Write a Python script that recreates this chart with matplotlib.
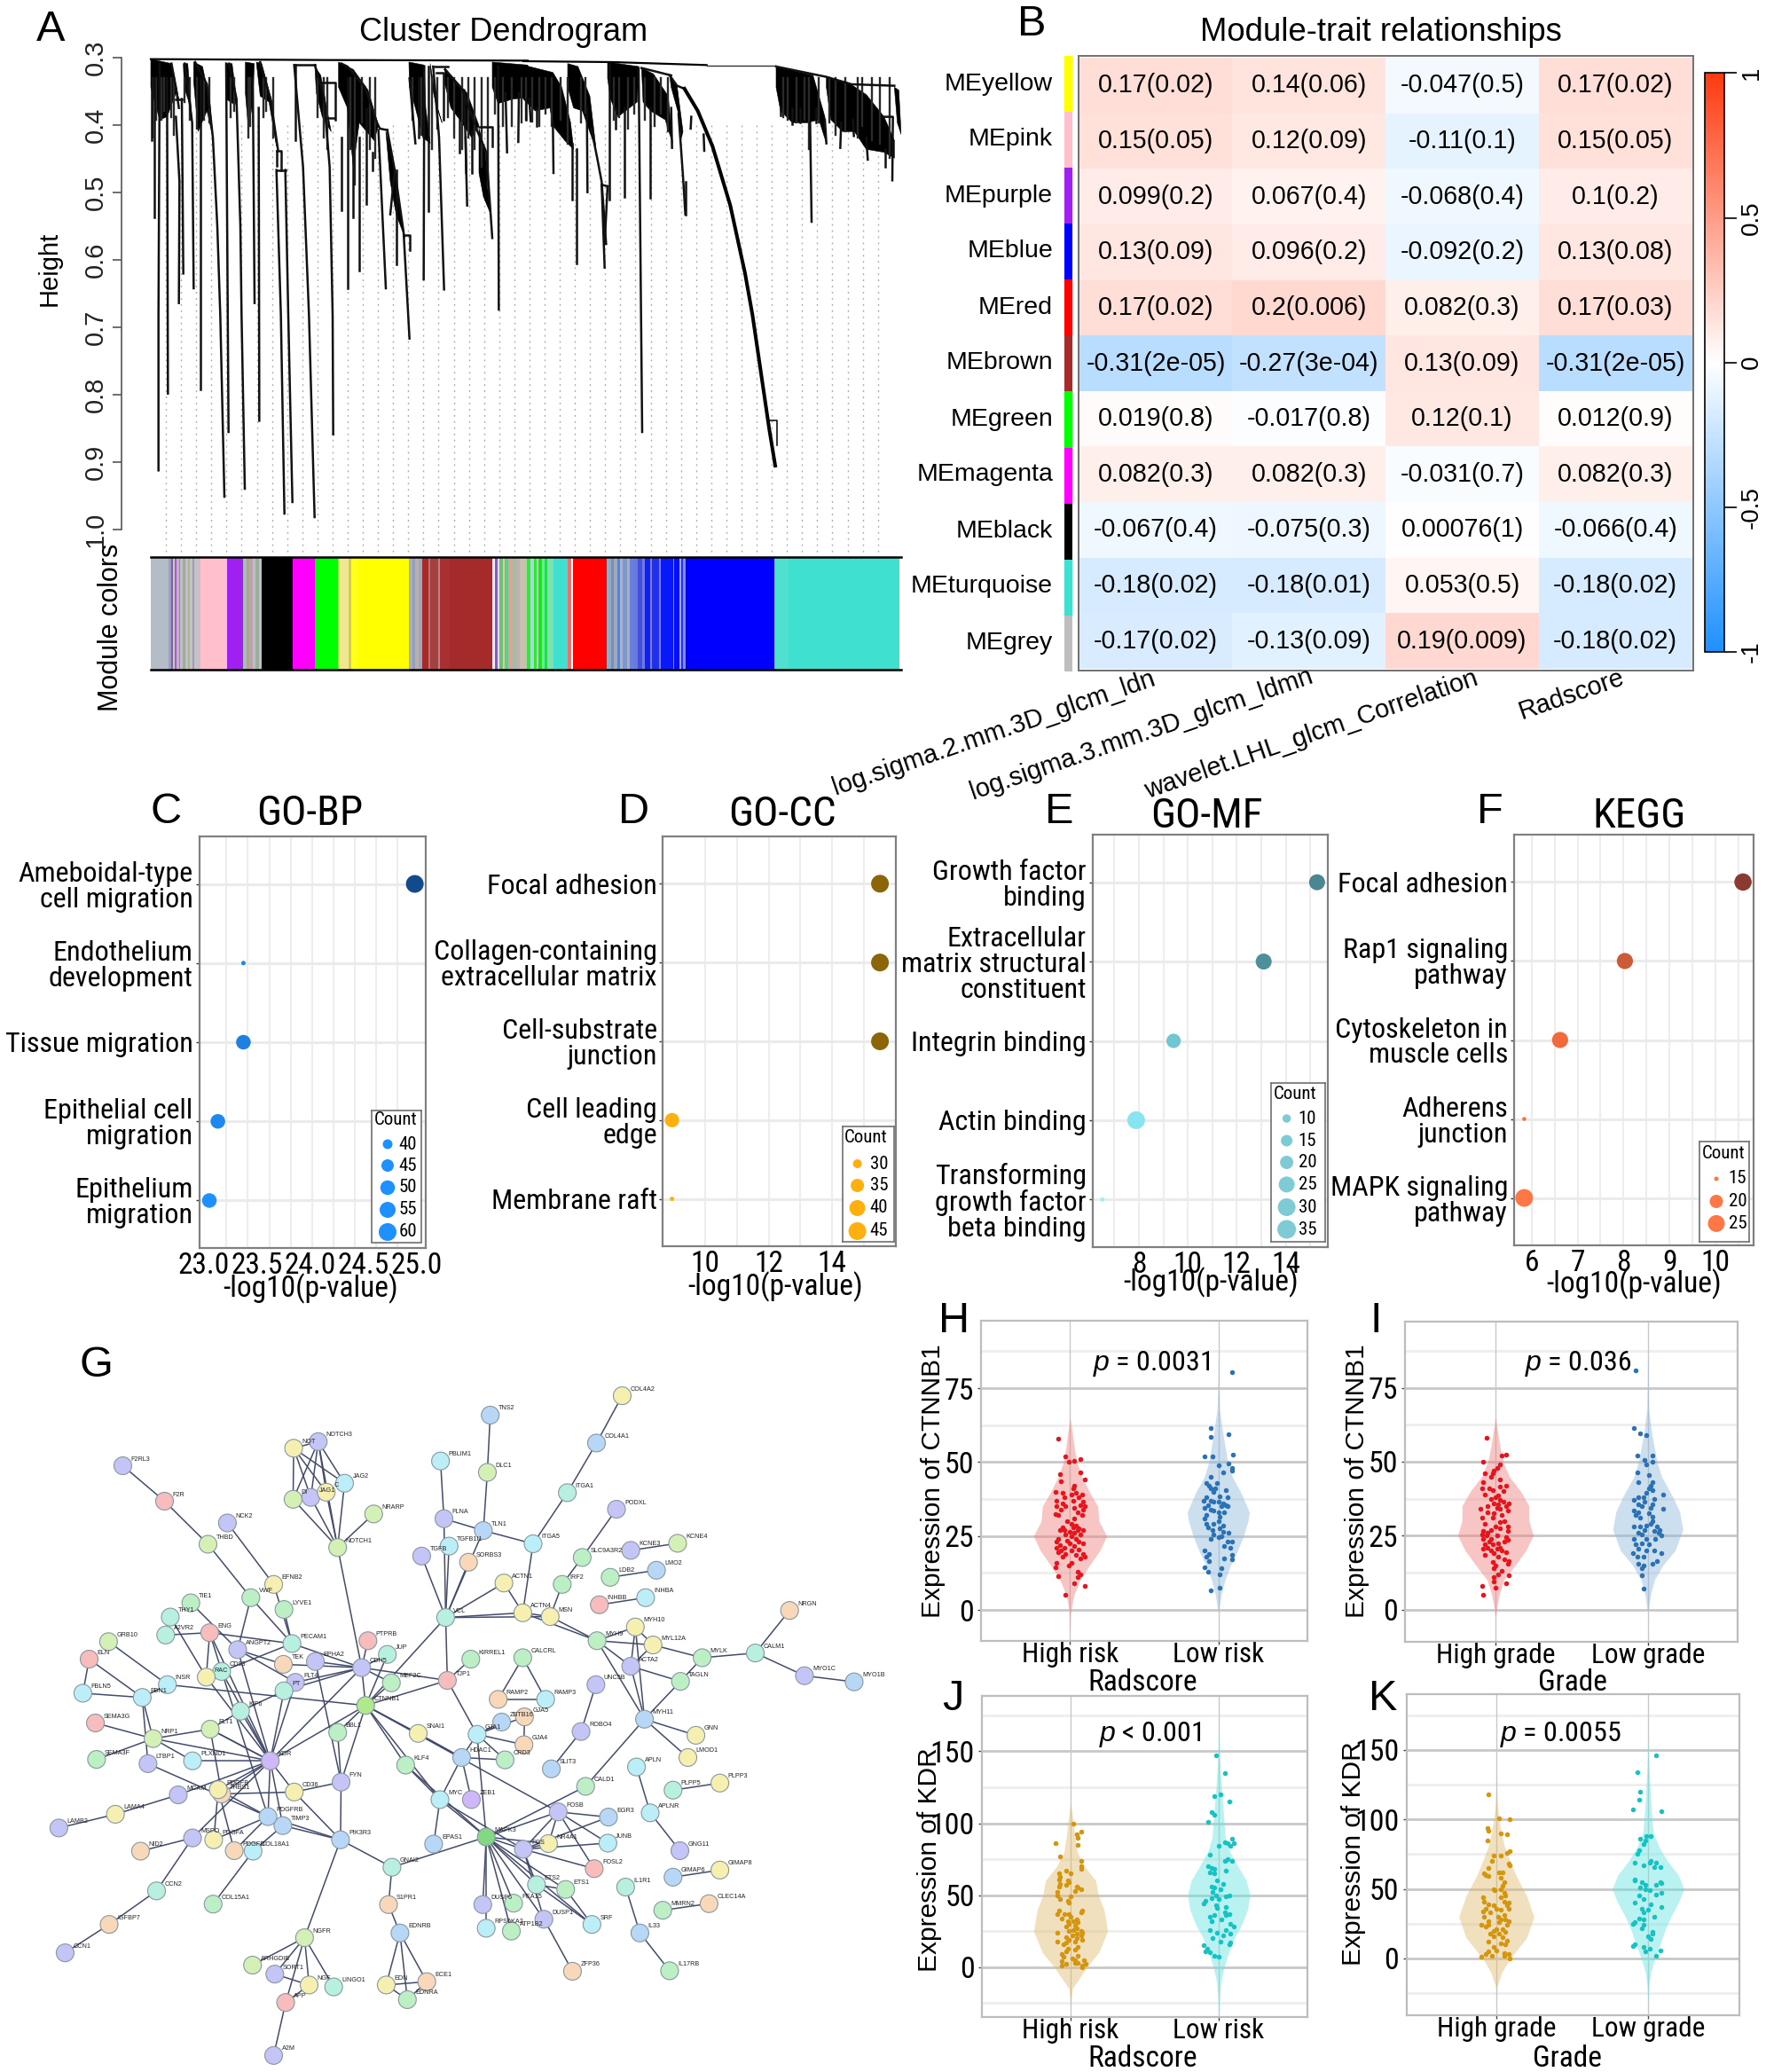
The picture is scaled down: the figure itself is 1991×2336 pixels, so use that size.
import numpy as np
import matplotlib
matplotlib.use('Agg')
import matplotlib.pyplot as plt
from matplotlib import font_manager as fm
from matplotlib.colors import LinearSegmentedColormap, ListedColormap, Normalize
from matplotlib.cm import ScalarMappable

W, H = 1991, 2336
REG = ['Liberation Sans', 'DejaVu Sans']
_names = {f.name for f in fm.fontManager.ttflist}
NS = 0.84
NAR = REG
for _c in ['Liberation Sans Narrow', 'Roboto Condensed', 'Open Sans Condensed', 'Noto Sans Condensed']:
    if _c in _names:
        NAR = [_c] + REG
        NS = 1.0
        break
plt.rcParams['font.family'] = REG
plt.rcParams['mathtext.fontset'] = 'custom'
plt.rcParams['mathtext.it'] = 'Liberation Sans:italic'
plt.rcParams['mathtext.rm'] = 'Liberation Sans'
PT = 0.72

left_lines = [
 [(45,50),(41,900),(41,1426)],[(70,100),(73,1166)],[(28,100),(28,570)],[(18,100),(18,310)],
 [(85,50),(100,130),(110,200)],[(100,230),(112,450),(110,860)],[(120,170),(125,760)],[(100,170),(120,170)],
 [(130,50),(155,250),(160,810)],[(183,100),(183,1151)],
 [(165,45),(205,120),(225,300),(240,600),(250,900),(264,1515)],
 [(280,50),(305,170),(318,600),(322,900),(333,1488)],[(270,50),(272,400),(278,1296)],
 [(385,45),(420,170),(445,340)],[(360,100),(366,860)],[(380,200),(382,1258)],
 [(440,345),(455,345),(455,410)],[(440,345),(440,395)],[(440,410),(470,410)],
 [(440,410),(455,900),(467,1572)],[(470,410),(480,900),(494,1533)],
 [(500,55),(530,400),(550,900),(569,1584)],[(505,55),(505,310)],[(500,55),(570,55)],
 [(570,55),(600,160),(620,400),(630,900),(632,1304)],[(595,115),(640,115),(640,240)],[(610,235),(635,235)],
 [(660,50),(680,60),(740,130),(780,250),(790,270),(815,275)],[(785,275),(810,810)],
 [(815,275),(840,410),(870,620),(890,980)],[(840,410),(825,560)],[(870,630),(890,630),(890,680)],[(845,410),(845,730)],
 [(660,300),(660,545)],[(680,100),(680,810)],[(700,300),(700,570)],[(720,300),(720,750)],[(745,200),(745,525)],[(765,350),(765,410)],
 [(890,100),(910,320)],[(920,100),(920,300)],[(940,60),(938,780)],[(955,60),(955,550)],
 [(970,60),(990,300),(1007,814)],[(975,60),(1020,60)],[(980,80),(1005,80),(1005,240)],
 [(1010,70),(1070,140),(1120,280),(1150,350),(1170,640)],[(1075,140),(1085,530)],[(1060,240),(1060,350)],[(1080,300),(1082,420)],[(1100,280),(1100,420)],
 [(1125,265),(1170,265),(1170,330)],[(1190,60),(1192,882)],[(1215,150),(1220,350)],[(1260,150),(1258,315)],[(1285,170),(1285,240)],
]
left_wedges = [
 [(15,35),(85,50),(110,170),(100,150),(70,230),(45,240),(15,130)],
 [(125,50),(140,50),(155,250),(150,200),(128,130)],
 [(160,45),(190,60),(215,180),(225,300),(205,210),(175,280),(160,110)],
 [(268,50),(290,50),(305,170),(300,190),(270,170)],
 [(335,45),(365,50),(360,180),(345,270),(335,150)],
 [(372,45),(390,50),(425,180),(440,330),(415,180),(385,160)],
 [(570,60),(590,90),(610,200),(625,280),(595,230),(575,150)],
 [(650,45),(700,70),(750,140),(785,260),(770,310),(720,250),(700,400),(680,200),(650,130)],
 [(810,280),(830,350),(860,550),(875,640),(845,560),(825,450)],
 [(888,45),(940,55),(945,200),(960,320),(935,300),(910,200),(890,130)],
 [(960,50),(985,200),(1000,250),(980,190),(965,120)],
 [(1010,65),(1040,100),(1085,150),(1125,260),(1100,300),(1060,240),(1030,200),(1010,120)],
 [(1125,270),(1145,340),(1165,560),(1140,500),(1125,420)],
 [(1170,45),(1290,55),(1290,165),(1240,170),(1190,185),(1170,130)],
]
right_lines = [
 [(100,250),(102,420)],[(165,320),(165,510)],[(180,340),(180,725)],[(215,200),(217,485)],[(290,50),(290,510)],
 [(312,200),(312,270)],[(343,200),(343,500)],[(390,65),(402,1296)],[(430,200),(430,505)],[(548,450),(548,560)],
 [(970,250),(975,585)],[(230,270),(250,370),(265,450),(280,660)],[(265,460),(275,740)],[(285,465),(275,660)],[(265,460),(285,465)],
 [(400,65),(500,90)],[(495,90),(520,125),(545,135)],[(525,220),(540,430),(548,560)],
 [(855,60),(1025,95),(1110,120),(1255,125)],[(1215,230),(1250,230),(1248,445)],[(1160,300),(1165,375)],[(1225,340),(1225,400)],
 [(20,170),(25,245)],[(45,200),(45,260)],[(910,200),(910,255)],[(1020,240),(1025,320)],[(1075,250),(1072,335)],[(1115,240),(1118,295)],
 [(610,290),(612,345)],[(568,230),(566,270)],[(500,200),(503,335)],[(870,200),(870,225)],[(935,200),(935,250)],[(990,200),(990,250)],
]
right_wedges = [
 [(0,55),(100,80),(130,130),(160,250),(170,340),(140,310),(100,260),(90,200),(40,210),(0,170)],
 [(150,50),(185,60),(225,160),(245,330),(235,310),(200,210),(170,200),(150,130)],
 [(285,45),(390,60),(385,180),(320,230),(295,170),(285,100)],
 [(400,65),(440,85),(490,160),(505,320),(480,240),(430,210),(405,180)],
 [(495,90),(520,125),(540,280),(535,300),(525,220),(500,130)],
 [(855,60),(980,90),(1020,230),(1025,320),(1000,240),(960,250),(910,250),(870,210),(855,130)],
 [(1025,95),(1100,115),(1160,155),(1220,230),(1255,310),(1255,370),(1220,350),(1160,340),(1120,280),(1080,280),(1040,240),(1025,130)],
 [(1255,130),(1270,140),(1278,290),(1265,250)],
]
main_branch = [(545,135),(590,210),(640,330),(700,530),(750,760),(775,900),(832,1288),(852,1410)]
end_branch = [(835,1258),(857,1258),(857,1340)]
top_line_left = [(15,35),(600,38),(1290,40)]
top_line_right = [(0,42),(300,45),(620,55)]
top_line_thin = [(620,57),(855,57)]
fringe_left_x = [20,32,50,60,85,92,130,146,172,195,212,285,298,345,352,395,405,430,580,600,612,690,705,730,755,775,900,930,965,985,1020,1042,1068,1090,1110,1135,1155,1180,1205,1235,1270]
fringe_left_d = [300,240,240,210,230,290,180,240,270,240,250,230,210,300,260,230,210,300,230,300,340,340,460,250,340,370,240,290,340,270,230,300,340,300,340,400,470,220,260,260,250]
fringe_right_x = [10,30,55,75,95,125,150,195,210,305,325,355,375,412,445,465,490,880,895,925,950,965,1000,1035,1055,1090,1130,1145,1180,1205,1240]
fringe_right_d = [240,245,260,220,260,240,320,250,215,240,230,270,220,240,260,220,280,230,240,250,240,340,250,250,290,280,300,260,310,320,370]

module_segments = [
 (31,'#b4bcc8'),(4,'#9aa0c0'),(3,'#8a5aa8'),(3,'#c8c8c8'),(3,'#a060c0'),(4,'#c8b0c0'),(3,'#8890a8'),(4,'#c8b8c8'),(4,'#a0a8a0'),
 (5,'#c0c0c0'),(3,'#a8b890'),(5,'#c8c0c8'),(3,'#98a0b0'),(11,'#c8c0c8'),
 (45,'#ffc0cb'),(28,'#a020f0'),(6,'#b0b8c8'),(4,'#a8a890'),(6,'#c0a0b0'),(5,'#b8c0c8'),(6,'#98b098'),(5,'#c0c0c8'),
 (52,'#000000'),(38,'#ff00ff'),(40,'#00ff00'),(4,'#e8e060'),(15,'#f0e890'),(4,'#d8c860'),(12,'#ffff20'),
 (87,'#ffff00'),(6,'#a8b0c0'),(5,'#90a0c0'),(6,'#b8b0b0'),(6,'#a0a8b8'),
 (10,'#a52a2a'),(4,'#b87070'),(13,'#a54040'),(4,'#c08080'),(16,'#a83030'),(73,'#a52a2a'),
 (4,'#f0f0f0'),(5,'#8060b0'),(3,'#e0e0e0'),(6,'#70c070'),(4,'#d0d0b0'),(5,'#60d080'),(6,'#e0a0a0'),(8,'#a0c0a0'),(7,'#c0b0b0'),(12,'#c8c0b0'),
 (5,'#40e040'),(6,'#a0e0d0'),(5,'#30e830'),(4,'#b0e0c0'),(5,'#20e020'),(5,'#70e0c0'),(4,'#20e040'),(11,'#80e0b0'),
 (25,'#40e0d0'),(6,'#f07070'),(3,'#ffffff'),(57,'#ff0000'),
 (8,'#98a8c0'),(5,'#7090c8'),(6,'#a0a8b0'),(4,'#6080d0'),(5,'#b0b0c0'),(7,'#8098c8'),(5,'#a8b0c8'),(8,'#6880d8'),
 (6,'#6878e8'),(7,'#4050e0'),(5,'#7078e8'),(9,'#1020f0'),(3,'#7880f0'),(13,'#2030f0'),(3,'#7880f0'),(20,'#0818f8'),(2,'#8090f8'),(10,'#0010ff'),
 (2,'#a0a8ff'),(4,'#2030ff'),(4,'#8088ff'),(152,'#0000ff'),(25,'#50e0d0'),(190,'#40e0d0'),
]

# ---------- B: heatmap ----------
me_names = ['MEyellow','MEpink','MEpurple','MEblue','MEred','MEbrown','MEgreen','MEmagenta','MEblack','MEturquoise','MEgrey']
me_colors = ['#ffff00','#ffc0cb','#a020f0','#0000ff','#ff0000','#a52a2a','#00ff00','#ff00ff','#000000','#40e0d0','#bebebe']
r_text = [['0.17','0.14','-0.047','0.17'],['0.15','0.12','-0.11','0.15'],['0.099','0.067','-0.068','0.1'],
          ['0.13','0.096','-0.092','0.13'],['0.17','0.2','0.082','0.17'],['-0.31','-0.27','0.13','-0.31'],
          ['0.019','-0.017','0.12','0.012'],['0.082','0.082','-0.031','0.082'],['-0.067','-0.075','0.00076','-0.066'],
          ['-0.18','-0.18','0.053','-0.18'],['-0.17','-0.13','0.19','-0.18']]
p_text = [['0.02','0.06','0.5','0.02'],['0.05','0.09','0.1','0.05'],['0.2','0.4','0.4','0.2'],
          ['0.09','0.2','0.2','0.08'],['0.02','0.006','0.3','0.03'],['2e-05','3e-04','0.09','2e-05'],
          ['0.8','0.8','0.1','0.9'],['0.3','0.3','0.7','0.3'],['0.4','0.3','1','0.4'],
          ['0.02','0.01','0.5','0.02'],['0.02','0.09','0.009','0.02']]
traits = ['log.sigma.2.mm.3D_glcm_ldn','log.sigma.3.mm.3D_glcm_ldmn','wavelet.LHL_glcm_Correlation','Radscore']

# ---------- C-F: enrichment dot plots ----------
bp_terms = ['Ameboidal-type\ncell migration','Endothelium\ndevelopment','Tissue migration','Epithelial cell\nmigration','Epithelium\nmigration']
bp_p = [24.98,23.37,23.37,23.13,23.05]
bp_n = [60,37,50,50,50]
bp_c = ['#114b8c','#1e88e5','#1e80e0','#1e88ee','#1e90ff']
cc_terms = ['Focal adhesion','Collagen-containing\nextracellular matrix','Cell-substrate\njunction','Cell leading\nedge','Membrane raft']
cc_p = [15.5,15.5,15.5,8.96,8.96]
cc_n = [45,45,45,37,25]
cc_c = ['#8b6508','#8b6508','#8b6508','#ffb00f','#ffb00f']
mf_terms = ['Growth factor\nbinding','Extracellular\nmatrix structural\nconstituent','Integrin binding','Actin binding','Transforming\ngrowth factor\nbeta binding']
mf_p = [15.28,13.1,9.42,7.89,6.51]
mf_n = [25,25,22,30,4]
mf_c = ['#4c8690','#4d8f9b','#72c5d2','#88e4f0','#9ef0f8']
kg_terms = ['Focal adhesion','Rap1 signaling\npathway','Cytoskeleton in\nmuscle cells','Adherens\njunction','MAPK signaling\npathway']
kg_p = [10.6,8.03,6.62,5.84,5.84]
kg_n = [26,24,24,12,27]
kg_c = ['#8b3a30','#cc5b3a','#f06a3c','#ff6f3c','#ff7744']

# ---------- G: network ----------
net_nodes = [
('COL4A2',1089,138,'y'),('COL4A1',1044,238,'b'),('TNS2',858,179,'b'),('DLC1',853,300,'g'),('PBLIM1',771,276,'c'),('FLNA',777,398,'p'),('TLN1',846,423,'b'),
('ITGA1',993,343,'t'),('ITGA5',933,451,'c'),('PODXL',1079,378,'p'),('KCNE3',1104,465,'p'),('KCNE4',1186,450,'g'),('LDB2',1068,522,'m'),('LMO2',1149,507,'b'),
('INHBB',1049,580,'r'),('INHBA',1130,565,'c'),('SLC9A3R2',1019,480,'m'),('NOTCH3',557,235,'p'),('NOT',514,249,'y'),('JAG2',603,323,'c'),('JAG1',544,353,'p'),
('C',571,342,'y'),('DI',513,357,'g'),('NRARP',654,388,'g'),('NOTCH1',591,459,'g'),('F2RL3',215,286,'p'),('F2R',288,361,'r'),('NCK2',398,407,'p'),('THBD',364,452,'g'),
('EFNB2',479,537,'y'),('VWF',439,565,'m'),('LYVE1',497,590,'m'),('TIE1',334,576,'m'),('THY1',298,606,'t'),('A2VR2',290,644,'t'),('ENG',367,639,'r'),('ANGPT2',416,675,'p'),
('GRB10',190,658,'g'),('ELN',156,695,'r'),('FBLN5',145,767,'c'),('INSR',293,749,'c'),('FBN1',249,776,'c'),('PECAM1',511,662,'t'),('EPHA2',552,700,'p'),('TEK',496,706,'o'),
('FLT4',517,744,'p'),('CDH5',633,713,'p'),('CD93',388,721,'t'),('RAC',361,733,'y'),('PT',497,762,'t'),('KIF6',421,805,'t'),('SEMA3G',167,830,'r'),('NRP1',268,863,'g'),
('FLT1',368,843,'g'),('SEMA3F',169,907,'m'),('LTBP1',259,916,'p'),('PLXND1',337,910,'c'),('KDR',473,910,'v'),('BBL1',591,850,'m'),('CTNNB1',640,793,'G'),('PTPRB',644,656,'r'),
('JUP',678,685,'t'),('MEF2C',685,745,'m'),('TJP1',783,740,'r'),('KIRREL1',824,695,'m'),('VCL',780,607,'t'),('TGFB1I1',786,456,'c'),('TGFB',738,477,'p'),('SORBS3',820,490,'o'),
('ACTN1',882,534,'y'),('ACTN4',915,597,'y'),('IRF2',984,537,'m'),('MSN',963,605,'y'),('MYH9',1045,656,'m'),('MYH10',1112,627,'y'),('MYL12A',1143,665,'y'),('ACTA2',1104,710,'p'),
('TAGLN',1191,742,'m'),('MYLK',1229,692,'m'),('CALM1',1322,682,'t'),('NRGN',1382,592,'o'),('MYO1C',1408,730,'p'),('MYO1B',1495,743,'b'),('UNC5B',1043,749,'p'),('ROBO4',1017,848,'p'),
('SLIT3',965,927,'b'),('MYH11',1128,822,'b'),('GNN',1218,856,'y'),('LMOD1',1204,903,'y'),('CALD1',1025,964,'m'),('APLN',1114,923,'c'),('APLNR',1138,1020,'c'),('GNG11',1190,1100,'p'),
('PLPP5',1178,972,'t'),('PLPP3',1260,957,'y'),('FOSB',977,1018,'p'),('EGR3',1065,1029,'b'),('JUNB',1064,1084,'c'),('FOSL2',1040,1138,'r'),('NR4A1',960,1085,'y'),('FOS',916,1097,'p'),
('ETS2',939,1172,'t'),('ETS1',990,1182,'m'),('SRF',1036,1256,'c'),('DUSP1',952,1245,'p'),('ZFP36',1002,1355,'o'),('PEA15',899,1211,'m'),('DUSP6',845,1214,'p'),('RPS6KA2',851,1264,'c'),
('ATP1B2',895,1270,'m'),('MAPK3',851,1071,'D'),('MYC',770,992,'c'),('EPAS1',759,1086,'b'),('ZEB1',825,992,'v'),('HDAC1',808,903,'b'),('SNAI1',732,852,'y'),('KLF4',710,919,'m'),
('GJA1',835,854,'c'),('ZBTB16',878,828,'b'),('GJA5',918,817,'o'),('GJA4',917,876,'o'),('CRD3',884,908,'m'),('CALCRL',915,692,'m'),('RAMP2',872,780,'o'),('RAMP3',955,780,'c'),
('FYN',597,955,'p'),('PIK3R3',596,1077,'b'),('GNAI2',686,1135,'t'),('S1PR1',680,1214,'o'),('EDNRB',700,1274,'b'),('EDN',676,1384,'y'),('ECE1',747,1377,'o'),('EDNRA',713,1415,'m'),
('NGFR',533,1284,'g'),('ARHGDIB',442,1342,'g'),('SORT1',481,1361,'p'),('NGF',541,1384,'y'),('LINGO1',584,1388,'t'),('APP',500,1421,'r'),('A2M',479,1533,'p'),('CD36',515,976,'y'),
('TIMP3',495,1047,'b'),('PDGFRB',469,1028,'b'),('THBS1',388,980,'o'),('PDGFB',382,971,'y'),('MCAM',312,982,'p'),('LAMA4',202,1023,'y'),('LAMB2',103,1052,'p'),('MSPO',337,1073,'p'),
('NID2',246,1101,'o'),('PDGFA',374,1077,'y'),('PDGFD',410,1100,'o'),('COL18A1',443,1101,'c'),('COL15A1',373,1213,'m'),('CCN2',274,1185,'t'),('IGFBP7',191,1256,'o'),('CCN1',114,1316,'p'),
('GIMAP6',1178,1156,'b'),('GIMAP8',1260,1141,'y'),('IL1R1',1095,1177,'t'),('IL33',1120,1274,'b'),('IL17RB',1172,1354,'m'),('MMRN2',1160,1226,'m'),('CLEC14A',1241,1212,'o'),
]
net_edges = """COL4A2 COL4A1;COL4A1 ITGA1;ITGA1 ITGA5;TNS2 DLC1;DLC1 TLN1;PBLIM1 FLNA;FLNA TLN1;TLN1 ITGA5;FLNA VCL;TLN1 VCL;TGFB1I1 VCL;TGFB VCL;SORBS3 VCL;ITGA5 ACTN4;ACTN1 VCL;ACTN1 ACTN4;VCL ACTN4;VCL MSN;
ACTN4 MSN;MSN MYH9;ACTN4 MYH9;IRF2 MSN;SLC9A3R2 IRF2;PODXL SLC9A3R2;KCNE3 KCNE4;LDB2 LMO2;INHBB INHBA;MYH9 MYH10;MYH9 MYL12A;MYH10 MYL12A;MYH9 ACTA2;MYH10 ACTA2;MYL12A ACTA2;MYL12A MYLK;MYLK TAGLN;ACTA2 TAGLN;
MYLK CALM1;CALM1 NRGN;CALM1 MYO1C;MYO1C MYO1B;MYH9 MYH11;ACTA2 MYH11;MYH10 MYH11;TAGLN MYH11;MYH11 GNN;MYH11 LMOD1;MYH11 CALD1;CALD1 MAPK3;UNC5B ROBO4;ROBO4 SLIT3;APLN APLNR;APLNR GNG11;PLPP5 PLPP3;
NOTCH3 JAG2;NOTCH3 JAG1;NOTCH3 DI;NOTCH3 NOT;NOT DI;NOT JAG2;NOT C;NOT JAG1;NOTCH3 C;JAG2 NOTCH1;JAG1 NOTCH1;C NOTCH1;DI NOTCH1;NOTCH3 NOTCH1;NRARP NOTCH1;NOTCH1 CDH5;F2RL3 F2R;F2R THBD;THBD VWF;NCK2 EFNB2;EFNB2 PECAM1;
VWF PECAM1;VWF ANGPT2;LYVE1 PECAM1;TIE1 ANGPT2;THY1 RAC;A2VR2 ENG;ENG PECAM1;ENG RAC;ENG CD93;ANGPT2 TEK;ANGPT2 FLT4;PECAM1 CDH5;PECAM1 CD93;EPHA2 CDH5;EPHA2 FYN;TEK CDH5;FLT4 CDH5;FLT4 PT;PT KIF6;PT CDH5;
GRB10 INSR;ELN FBN1;ELN FBLN5;FBLN5 FBN1;INSR FBN1;INSR CTNNB1;FBN1 NRP1;FBN1 LTBP1;NRP1 SEMA3G;NRP1 SEMA3F;NRP1 FLT1;NRP1 KDR;NRP1 PLXND1;FLT1 KDR;FLT1 KIF6;PLXND1 KDR;KIF6 KDR;RAC KDR;CD93 KDR;ENG KDR;ANGPT2 KDR;
PT KDR;FLT4 KDR;CDH5 KDR;CTNNB1 KDR;KDR CD36;KDR PDGFRB;KDR TIMP3;KDR PDGFB;KDR MSPO;KDR FLT1;KDR THBS1;CD93 PDGFRB;FLT1 THBS1;LTBP1 PDGFRB;CD36 THBS1;CD36 FYN;CD36 PIK3R3;MCAM LAMA4;LAMA4 LAMB2;MCAM KDR;MSPO NID2;MSPO CCN2;
CCN2 IGFBP7;IGFBP7 CCN1;PDGFRB PDGFB;PDGFRB PIK3R3;PDGFB PDGFA;PDGFB PDGFD;PDGFRB PDGFD;PDGFRB PDGFA;COL18A1 COL15A1;COL18A1 TIMP3;TIMP3 PIK3R3;FYN PIK3R3;FYN CTNNB1;BBL1 FYN;BBL1 CTNNB1;PIK3R3 GNAI2;PIK3R3 NGFR;GNAI2 MAPK3;
GNAI2 S1PR1;S1PR1 EDNRB;EDNRB EDN;EDNRB EDNRA;EDNRB ECE1;EDN EDNRA;EDN ECE1;ECE1 EDNRA;NGFR ARHGDIB;NGFR SORT1;NGFR NGF;NGFR LINGO1;NGFR APP;SORT1 NGF;NGF APP;APP A2M;PTPRB CDH5;JUP CDH5;JUP CTNNB1;CDH5 CTNNB1;CDH5 TJP1;
MEF2C CTNNB1;MEF2C CDH5;CTNNB1 TJP1;CTNNB1 VCL;TJP1 VCL;TJP1 KIRREL1;TJP1 GJA1;GJA1 HDAC1;GJA1 ZBTB16;GJA1 GJA5;GJA1 GJA4;GJA1 CRD3;GJA5 GJA4;GJA1 MAPK3;CTNNB1 SNAI1;CTNNB1 HDAC1;CTNNB1 MYC;CTNNB1 KLF4;CTNNB1 FOSB;SNAI1 HDAC1;
KLF4 MYC;HDAC1 MYC;HDAC1 ZEB1;HDAC1 CRD3;MYC MAPK3;MYC EPAS1;MYC FOS;KLF4 MAPK3;MAPK3 FOSB;MAPK3 FOS;MAPK3 ETS2;MAPK3 ETS1;MAPK3 DUSP6;MAPK3 RPS6KA2;MAPK3 PEA15;MAPK3 ATP1B2;MAPK3 DUSP1;MAPK3 NR4A1;MAPK3 SRF;
FOSB EGR3;FOSB JUNB;FOSB FOSL2;FOSB NR4A1;FOS EGR3;FOS JUNB;FOS FOSL2;FOS NR4A1;FOS FOSB;FOS DUSP1;FOS ETS2;ETS2 ETS1;ETS1 SRF;ETS2 SRF;DUSP1 ZFP36;CALCRL RAMP2;CALCRL RAMP3;RAMP2 RAMP3;GIMAP6 GIMAP8;IL1R1 IL33;IL33 IL17RB;MMRN2 CLEC14A"""
net_palette = {'y':'#f6f0b0','b':'#b8d6f6','g':'#d4f0b4','c':'#bceef8','p':'#c4c4f6','t':'#b8f0e0','m':'#bcf0c4','r':'#f8bcbc','o':'#f8d8b8','v':'#cfb8fa','G':'#b0e88c','D':'#84d884'}

# ---------- H-K: violins ----------
H_hi = [(-.08,58),(-.03,52),(.07,51),(.03,50.5),(-.01,50),(-.07,46),(.07,46.5),(.1,44),(-.06,43.5),(.03,42),(.02,41),(-.1,40),(-.05,39.5),(.04,39.5),(.08,39),(.01,39),(-.04,38),(.06,38),(-.09,37),(.02,37),(.09,36.5),(-.05,36),(.07,35.5),(-.09,35),(-.03,35),(.1,35),(.03,34.5),(-.06,34),(.09,34),(.05,33),(-.1,32.5),(-.08,32),(.08,32),(.03,31),(-.02,30),(.01,29),(.04,28.5),(-.05,28),(.02,28),(.06,27.5),(-.07,27),(-.04,27),(.05,27),(.09,27),(0,26.5),(.03,26),(-.03,25.5),(.07,25.5),(.01,25),(-.08,24),(.04,24),(-.02,23.5),(-.09,23),(.06,23),(.0,22.5),(.09,22.5),(-.07,22),(.03,21.5),(-.09,21),(-.04,21),(.06,20.5),(.01,20),(-.06,20),(-.08,19.5),(.09,19),(-.03,19),(.04,18.5),(.1,18),(-.05,18),(.07,17.5),(-.09,16),(.01,16),(-.1,14.5),(-.01,15),(.05,13),(.07,12),(-.08,11.5),(.05,11),(.03,9),(.1,8),(-.03,5)]
H_lo = [(.09,80.5),(-.05,61.5),(.07,59.5),(-.05,58.5),(-.09,52),(-.04,52),(.1,52.5),(.07,49.5),(0,49),(.09,48),(.09,47),(.03,46.5),(-.05,45),(-.01,43),(-.08,43),(-.06,42),(-.05,41),(-.02,41),(.05,40.5),(-.03,40),(.01,38.5),(-.08,38),(.06,38),(-.1,37),(-.05,37),(-.03,36.5),(0,36.5),(.03,36),(-.07,35.5),(.05,35.5),(.02,35),(.06,35),(-.09,34.5),(-.05,34),(-.03,33.5),(0,33),(.04,33),(-.08,32),(.01,31.5),(-.09,31),(.0,30),(-.08,29),(-.03,29),(.03,28.5),(-.07,28),(.01,27.5),(-.04,27),(.03,26.5),(.07,26),(-.03,25.5),(.02,25),(.0,24.5),(-.05,24),(.06,23),(.09,23),(.04,21.5),(.08,21),(-.09,20),(-.06,19),(-.08,18),(.09,18.5),(.09,17),(.04,17.5),(-.06,16.5),(-.09,14.5),(.02,14),(-.07,13),(.01,12),(.01,7.5),(-.05,6.5)]
I_hi = [(-.06,58),(.07,52.5),(.04,52),(-.08,50),(.03,49),(.01,48),(-.01,47),(-.07,46),(-.02,46),(-.03,45),(.03,44),(-.08,43),(.07,42),(.03,41.5),(-.09,41),(-.04,41),(-.02,40.5),(.05,40),(-.07,39),(.02,38.5),(0,38),(-.03,37.5),(.03,37),(.05,36.5),(.09,36),(-.01,36),(.02,35.5),(-.05,35),(.07,35),(.01,34.5),(-.1,34),(.03,34),(.08,33.5),(-.05,33),(-.01,32.5),(.04,32),(-.09,31),(-.02,31),(.06,30),(.03,29.5),(-.07,29),(.08,28),(.0,28),(.03,27.5),(-.03,27),(.08,26.5),(-.08,26.5),(-.05,26),(-.09,25.5),(.01,25),(-.06,25),(.07,24.5),(-.03,24),(-.08,24),(.08,23.5),(-.04,23),(.06,23),(.02,22.5),(-.07,22),(-.02,22),(.03,21),(-.05,21),(-.08,20.5),(.01,20.5),(.04,20),(-.03,20),(.07,19.5),(-.01,19),(-.07,18.5),(.02,18),(.06,17),(.09,16.5),(-.02,16),(.08,15.5),(.0,15),(-.01,14),(.04,13),(.02,12),(-.01,11),(.09,11.5),(-.01,9.5),(.07,9),(-.09,8),(.0,7.5),(-.08,5)]
I_lo = [(-.08,81),(-.09,61.5),(-.05,59.5),(-.01,59),(-.07,52),(.03,52),(-.02,50.5),(.03,50),(-.01,49),(-.07,46.5),(.01,45.5),(.03,43),(-.06,43),(.02,42),(.01,41),(.03,40.5),(-.01,39.5),(.1,39),(-.06,38),(-.03,38),(.04,37.5),(-.09,37),(-.02,36.5),(.03,35.5),(-.06,35.5),(-.04,35),(.02,34.5),(.1,34),(-.09,33.5),(-.06,33),(.01,32.5),(-.08,32),(.03,31.5),(-.05,31),(.03,30),(.02,29),(-.01,28.5),(-.09,28),(-.05,28),(.06,28),(-.02,27),(.08,27),(.04,26.5),(-.06,26),(.07,26),(-.04,25.5),(-.09,24),(-.01,24),(.05,24),(.09,25),(-.04,22.5),(-.08,22),(.01,22),(-.06,20.5),(.04,20),(-.01,20),(.09,19),(-.1,19),(-.07,18),(-.03,18),(.06,16.5),(-.06,15.5),(-.03,15),(.03,15.5),(-.04,14),(-.04,11.5),(-.03,7)]
J_hi = [(.02,100),(.07,94),(.04,92),(.05,90),(-.1,86),(.05,85),(-.07,77),(.07,74),(.07,70),(.07,68),(-.03,67),(-.08,65),(.0,65),(-.07,63),(-.08,61),(-.02,60),(-.01,59),(-.07,58),(-.03,57),(-.08,56),(.04,56),(.05,55),(.07,54),(.03,53),(-.09,52),(-.09,50),(.0,49),(-.07,47),(-.02,46),(-.01,45),(-.08,39),(.08,39),(.07,38),(-.09,37),(-.04,37),(-.01,37),(.0,35),(-.06,34),(.04,33),(-.02,32),(.02,32),(.05,31),(-.01,30),(.03,29),(-.03,28),(.04,27),(.02,26),(-.01,25),(.07,25),(-.09,24),(.08,24),(.04,23),(.01,22),(.07,22),(-.03,21),(.04,20),(-.01,19),(.08,19),(-.09,18),(.03,18),(-.03,17),(-.05,16),(.05,14),(-.02,13),(.03,12),(-.03,11),(-.06,9),(.05,8),(-.05,7),(.01,6),(.09,5),(-.06,4),(.03,3),(.05,3),(-.03,2),(.08,1),(-.06,1),(.1,2),(.03,5),(.08,0)]
J_lo = [(-.02,147),(.04,135),(-.03,119),(.01,120),(.07,115),(-.05,108),(-.03,106),(-.07,101),(.09,89),(.04,87),(.06,86),(.1,86),(.0,84),(.08,84),(-.06,78),(.06,75),(.04,74),(.09,74),(-.07,70),(-.05,69),(-.03,68),(.05,67),(-.06,66),(-.03,65),(-.01,60),(.03,58),(-.05,56),(-.03,55),(.01,54),(-.04,52),(-.02,50),(.05,49),(.07,50),(-.05,48),(.0,47),(-.09,46),(-.1,44),(-.02,43),(.05,42),(-.01,41),(.04,38),(.07,37),(-.03,36),(.05,36),(-.06,35),(.02,33),(-.05,32),(.08,30),(.1,28),(-.06,26),(.05,26),(-.01,24),(.03,22),(.08,23),(-.04,20),(.01,18),(.08,17),(-.1,15),(.07,16),(-.08,13),(-.09,11),(-.06,10),(-.03,8),(.0,7)]
K_hi = [(-.05,118),(.02,101),(.09,100),(-.06,94),(-.05,92),(.03,90),(.07,89),(-.06,85),(.09,77),(.07,76),(-.02,74),(.03,74),(-.03,70),(.08,68),(.09,67),(-.05,65),(.02,62),(-.08,61),(.04,62),(-.07,60),(-.05,59),(.03,58),(.05,55),(.04,52),(-.02,50),(.03,50),(-.01,49),(.05,47),(.06,45),(-.09,44),(.03,44),(-.08,41),(.05,41),(.08,40),(-.05,39),(-.02,38),(.07,38),(-.07,36),(.0,36),(.03,35),(.08,36),(-.09,34),(-.04,33),(.05,31),(-.08,30),(.01,30),(.03,28),(.06,28),(.08,27),(-.05,27),(.02,26),(-.1,24),(-.07,23),(-.05,24),(.07,24),(.0,21),(.04,21),(-.02,20),(.06,19),(.02,18),(-.04,18),(-.02,16),(.04,15),(.07,13),(-.05,12),(.03,11),(.06,10),(-.02,8),(.0,6),(-.05,5),(.05,4),(-.07,3),(.08,3),(-.03,2),(-.1,1),(.05,2),(.09,0)]
K_lo = [(.05,146),(-.07,134),(-.05,120),(-.06,114),(-.1,107),(.09,106),(-.01,88),(.02,88),(-.05,86),(-.02,85),(-.03,82),(-.06,78),(-.07,75),(-.09,69),(.01,69),(.02,70),(.05,69),(-.03,67),(.04,66),(.08,66),(-.09,57),(-.09,56),(-.04,55),(.08,55),(.09,54),(-.02,53),(.05,53),(-.05,51),(-.02,50),(.01,49),(.09,47),(.05,46),(-.06,45),(-.03,43),(-.09,40),(.02,39),(.09,37),(-.04,36),(.0,35),(-.03,33),(.04,30),(-.06,29),(-.03,28),(-.09,26),(-.1,25),(-.03,24),(-.04,22),(.03,19),(.03,18),(.0,16),(.02,14),(-.09,10),(-.1,9),(-.03,8),(.01,7),(.08,6),(-.02,5),(.05,2)]
viol_v_hi_H = [-8,-2,0,5,10,15,20,25,30,35,40,45,50,55,60,65]
viol_w_hi_H = [0,.003,.007,.026,.067,.13,.2,.247,.195,.187,.13,.08,.045,.028,.015,0]
viol_v_lo_H = [-1,0,5,10,15,20,25,30,33,40,45,50,60,68,75,85]
viol_w_lo_H = [0,.004,.019,.045,.082,.13,.17,.2,.21,.15,.094,.064,.03,.008,.003,.001]
viol_v_hi_I = [-3,0,5,10,15,20,25,30,35,40,45,50,55,60,65]
viol_w_hi_I = [0,.007,.025,.055,.13,.2,.248,.22,.22,.165,.09,.05,.03,.015,0]
viol_v_lo_I = [-1,0,5,10,15,20,27,33,38,45,50,60,68,75,85]
viol_w_lo_I = [0,.004,.018,.044,.1,.18,.23,.21,.165,.09,.06,.025,.006,.003,.001]
viol_v_hi_J = [-30,-25,-15,-10,0,10,25,40,50,60,70,80,90,100,110,115]
viol_w_hi_J = [0,.002,.011,.045,.11,.19,.25,.225,.187,.17,.094,.045,.03,.019,.006,0]
viol_v_lo_J = [-30,-20,-10,0,10,20,30,40,50,60,70,80,90,100,110,120,130,150,165]
viol_w_lo_J = [.002,.006,.015,.037,.067,.105,.157,.195,.21,.187,.13,.075,.045,.037,.03,.022,.015,.004,0]
viol_v_hi_K = [-30,-20,-10,0,5,15,30,45,60,70,80,90,100,110,130]
viol_w_hi_K = [0,.005,.036,.09,.128,.2,.248,.2,.128,.09,.055,.033,.018,.007,0]
viol_v_lo_K = [-30,-20,-10,0,10,20,30,40,50,60,70,80,90,100,120,140,160]
viol_w_lo_K = [.002,.005,.018,.044,.08,.11,.15,.2,.237,.2,.128,.073,.036,.026,.015,.005,0]
risk_groups = ['High risk','Low risk']
grade_groups = ['High grade','Low grade']


def ax_px(x0, y0, x1, y1, **kw):
    return fig.add_axes([x0/W, 1-y1/H, (x1-x0)/W, (y1-y0)/H], **kw)

def txt(x, y, s, size, fam=REG, **kw):
    kw.setdefault('ha', 'center'); kw.setdefault('va', 'center')
    return fig.text(x/W, 1-y/H, s, fontsize=size, family=fam, **kw)

fig = plt.figure(figsize=(W/100, H/100), dpi=100, facecolor='white')

for s, x, y in [('A',57,33),('B',1163,28),('C',187,916),('D',715,916),('E',1194,916),('F',1680,916),('G',108,1540),
                ('H',1076,1490),('I',1551,1490),('J',1074,1915),('K',1559,1915)]:
    txt(x, y, s, 35)

# ---- A
ax = ax_px(137, 65, 1016, 597)
UNIT = 846/1288
ax.set_xlim((137-170)/UNIT, 1288)
ax.set_ylim(1.0, 0.3)
for sp in ['top','right','bottom']:
    ax.spines[sp].set_visible(False)
ax.spines['left'].set_color('#555555'); ax.spines['left'].set_linewidth(1.2)
ax.set_xticks([])
ax.set_yticks(np.arange(3, 11)/10)
ax.set_yticklabels([f'{v/10:.1f}' for v in range(3, 11)], rotation=90, va='center', fontsize=21, color='#222222')
ax.tick_params(axis='y', length=7, width=1.2, color='#555555', pad=4)
for g in np.arange(26, 1270, 26):
    ax.plot([g, g], [0.40, 1.035], ls=(0, (1.4, 3.6)), lw=1.0, color='#adadad', clip_on=False, zorder=1)

def to_leaf(pts, base):
    return [(base + p[0]/3 - 170)/UNIT for p in pts]
def to_h(pts):
    return [0.3 + (55 + p[1]/3 - 65)/532*0.7 for p in pts]

for base, lines, wedges, fx, fd in [(165, left_lines, left_wedges, fringe_left_x, fringe_left_d),
                                    (590, right_lines, right_wedges, fringe_right_x, fringe_right_d)]:
    for w in wedges:
        ax.fill(to_leaf(w, base), to_h(w), color='black', lw=0.4, zorder=3)
    for ln in lines:
        ax.plot(to_leaf(ln, base), to_h(ln), color='#111111', lw=1.8, zorder=4)
    for x, d in zip(fx, fd):
        ax.plot(to_leaf([(x, 100), (x, d)], base), to_h([(x, 100), (x, d)]), color='#2a2a2a', lw=1.7, zorder=3)
ax.plot(to_leaf(main_branch, 590), to_h(main_branch), color='black', lw=2.9, zorder=4)
ax.plot(to_leaf(end_branch, 590), to_h(end_branch), color='black', lw=1.1, zorder=4)
ax.plot(to_leaf(top_line_left, 165), to_h(top_line_left), color='black', lw=1.6, zorder=5)
ax.plot(to_leaf(top_line_right, 590), to_h(top_line_right), color='black', lw=1.6, zorder=5)
ax.plot(to_leaf(top_line_thin, 590), to_h(top_line_thin), color='#333333', lw=1.0, zorder=5)
txt(568, 37, 'Cluster Dendrogram', 26)
txt(56, 303, 'Height', 21, rotation=90)
txt(125, 707, 'Module colors', 22, rotation=90)

ax = ax_px(170, 628, 1016, 755)
ax.set_xlim(0, 1288); ax.set_ylim(0, 1)
widths = [s[0] for s in module_segments]
lefts = np.concatenate([[0], np.cumsum(widths)[:-1]])
ax.bar(lefts, [1]*len(widths), width=widths, align='edge', color=[s[1] for s in module_segments], lw=0)
for sp in ['left','right']:
    ax.spines[sp].set_visible(False)
for sp in ['top','bottom']:
    ax.spines[sp].set_linewidth(1.8)
ax.set_xticks([]); ax.set_yticks([])

# ---- B
cmap = LinearSegmentedColormap.from_list('mt', ['#1e90ff', '#ffffff', '#ff3a10'])
vals = np.array([[float(v) for v in row] for row in r_text])
ax = ax_px(1215.7, 63, 1908.6, 756)
ax.pcolormesh(np.arange(5), np.arange(12), vals, cmap=cmap, vmin=-1, vmax=1, shading='flat')
ax.set_xlim(-.006, 4.006); ax.set_ylim(11.03, -.03)
for sp in ax.spines.values():
    sp.set_color('#707070'); sp.set_linewidth(1.4)
ax.set_xticks([]); ax.set_yticks([])
for i in range(11):
    for j in range(4):
        ax.text(j+.5, i+.5, f'{r_text[i][j]}({p_text[i][j]})', ha='center', va='center', fontsize=20.6)
    txt(1187, 63+(i+.5)*63, me_names[i], 20.5, ha='right')
ax = ax_px(1199.5, 63, 1208, 757)
ax.imshow(np.arange(11).reshape(-1, 1), cmap=ListedColormap(me_colors), aspect='auto', interpolation='nearest')
ax.axis('off')
for s, x, y in zip(traits, [1120, 1287, 1478, 1772], [826, 828, 828, 783]):
    txt(x, y, s, 20.9, rotation=19, rotation_mode='anchor')
txt(1557, 36.5, 'Module-trait relationships', 26.3)
cax = ax_px(1922, 82.5, 1944, 735)
cb = fig.colorbar(ScalarMappable(norm=Normalize(-1, 1), cmap=cmap), cax=cax, ticks=[-1, -.5, 0, .5, 1])
cb.ax.set_yticklabels(['-1', '-0.5', '0', '0.5', '1'], rotation=90, va='center', fontsize=20)
cb.ax.tick_params(length=10, width=1.2, pad=3)
cb.outline.set_linewidth(1.2)

# ---- C-F
def dotplot(box, xlim, ticks, ticklabels, grid, vals, counts, colors, terms, knots_n, knots_d, pad,
            leg_box, leg_title, leg_xy, leg_counts, leg_y, leg_color, title, title_xy, xlabel_xy, tick_pad=3):
    ax = ax_px(*box)
    ax.set_xlim(*xlim); ax.set_ylim(.4, 5.6)
    ax.set_xticks(grid, minor=True)
    for g in grid:
        ax.axvline(g, color='#ededed', lw=1.5, zorder=1)
    ys = [5, 4, 3, 2, 1]
    for y in ys:
        ax.axhline(y, color='#ebebeb', lw=2.2, zorder=1)
    d = np.interp(counts, knots_n, knots_d)
    ax.scatter(vals, ys, s=(d*PT)**2, c=colors, lw=0, zorder=3, clip_on=False)
    ax.set_xticks(ticks); ax.set_xticklabels(ticklabels, fontsize=24*NS, family=NAR)
    ax.tick_params(axis='x', which='both', length=0, pad=tick_pad)
    ax.set_yticks(ys)
    ax.set_yticklabels(terms, fontsize=23*NS, family=NAR, linespacing=1.0, multialignment='right')
    ax.tick_params(axis='y', length=3, width=1, color='#333333', pad=pad)
    for sp in ax.spines.values():
        sp.set_color('#808080'); sp.set_linewidth(1.6)
    txt(title_xy[0], title_xy[1], title, 34*NS, fam=NAR)
    txt(xlabel_xy[0], xlabel_xy[1], '-log10(p-value)', 24*NS, fam=NAR)
    la = ax_px(*leg_box)
    la.set_xlim(leg_box[0], leg_box[2]); la.set_ylim(leg_box[3], leg_box[1])
    la.set_xticks([]); la.set_yticks([])
    for sp in la.spines.values():
        sp.set_color('#707070'); sp.set_linewidth(1.2)
    la.text(leg_title[0], leg_title[1], 'Count', fontsize=15*NS, family=NAR, ha='center', va='center')
    ld = np.interp(leg_counts, knots_n, knots_d)
    la.scatter([leg_xy[0]]*len(leg_counts), leg_y, s=(ld*PT)**2, color=leg_color, lw=0, clip_on=False)
    for n, y in zip(leg_counts, leg_y):
        la.text(leg_xy[1], y, str(n), fontsize=15*NS, family=NAR, ha='center', va='center')

dotplot((224.5,943,480,1407), (22.954,25.083), [23,23.5,24,24.5,25], ['23.0','23.5','24.0','24.5','25.0'],
        [23.21,23.41,23.62,23.82,24.02,24.22,24.42,24.62,24.82], bp_p, bp_n, bp_c, bp_terms,
        [37,40,45,50,55,60],[5,11,14,16.5,18,20], 2,
        (418.5,1252,475,1400.5),(446,1262),(437,460),[40,45,50,55,60],[1290,1314,1339,1364,1389],'#1e90ff',
        'GO-BP',(349,917),(350,1453))
dotplot((746.5,943,1010,1405), (8.65,16.0), [10,12,14], ['10','12','14'],
        [10,11,12,13,14,15,16], cc_p, cc_n, cc_c, cc_terms,
        [25,30,35,40,45],[5,10,15,18,20], 1,
        (950,1270,1008,1400),(976,1282.6),(966.6,991),[30,35,40,45],[1312,1336.5,1362,1388],'#ffb00f',
        'GO-CC',(882,918),(874,1451))
dotplot((1232,941,1497,1406), (6.12,15.72), [8,10,12,14], ['8','10','12','14'],
        [7,8,9,10,11,12,13,14,15], mf_p, mf_n, mf_c, mf_terms,
        [4,10,15,20,25,30,35],[5,9.5,13,15,18,20,21], 2,
        (1433,1221,1494,1400),(1460,1233),(1450.6,1474),[10,15,20,25,30,35],[1261,1286,1310.5,1335.4,1361,1386],'#7fcbd5',
        'GO-MF',(1360,920),(1364.6,1446))
dotplot((1707,941,1977,1404), (5.62,10.83), [6,7,8,9,10], ['6','7','8','9','10'],
        [6,6.5,7,7.5,8,8.5,9,9.5,10,10.5], kg_p, kg_n, kg_c, kg_terms,
        [12,15,20,25,27],[4.5,5,15,19,20], 2,
        (1916,1287,1972,1400),(1943,1301),(1935,1959),[15,20,25],[1329,1354.5,1379.4],'#ff7744',
        'KEGG',(1848,920),(1842,1448))

# ---- G
ax = ax_px(0, 1500, 1010, 2336)
ax.set_xlim(0, 1568); ax.set_ylim(1568, 0); ax.axis('off')
pos = {n[0]: (n[1], n[2]) for n in net_nodes}
for e in net_edges.replace('\n', '').split(';'):
    a, b = e.split()
    ax.plot([pos[a][0], pos[b][0]], [pos[a][1], pos[b][1]], color='#444c6c', lw=1.1, zorder=1)
ax.scatter([n[1] for n in net_nodes], [n[2] for n in net_nodes], s=(20*PT)**2,
           c=[net_palette[n[3]] for n in net_nodes], edgecolors='#8898a0', linewidths=0.8, zorder=2)
for n in net_nodes:
    ax.text(n[1]+14, n[2]-14, n[0], fontsize=5.2, family=REG, ha='left', va='center', zorder=3, color='#222222')

# ---- H-K
def violin(box, zero_px, unit_px, unit, ticks, minor, groups, centers, hi, lo, hi_shape, lo_shape, cols, ptext, xlabel, ylabel):
    ax = ax_px(*box)
    u = (centers[1]-centers[0])
    ax.set_xlim(1+(box[0]-centers[0])/u, 1+(box[2]-centers[0])/u)
    ax.set_ylim((zero_px-box[3])/unit_px*unit, (zero_px-box[1])/unit_px*unit)
    for v in minor:
        ax.axhline(v, color='#eeeeee', lw=2, zorder=1)
    for v in ticks:
        ax.axhline(v, color='#c8c8c8', lw=2, zorder=1)
    for x in (1, 2):
        ax.axvline(x, color='#c8c8c8', lw=1, zorder=1)
    for x, shape, col in zip((1, 2), (hi_shape, lo_shape), cols[2:]):
        v, w = np.array(shape[0], float), np.array(shape[1], float)
        ax.fill_betweenx(v, x-w, x+w, color=col, alpha=.45, lw=0, zorder=2)
    for x, pts, col in zip((1, 2), (hi, lo), cols[:2]):
        dx, yy = zip(*pts)
        ax.scatter(x+np.array(dx), yy, s=(5.5*PT)**2, color=col, lw=0, zorder=3, clip_on=False)
    ax.set_xticks([1, 2]); ax.set_xticklabels(groups, fontsize=22.5*NS, family=NAR)
    ax.set_yticks(ticks); ax.set_yticklabels([str(t) for t in ticks], fontsize=24.5*NS, family=NAR)
    ax.tick_params(axis='both', length=3, width=1, color='#444444', pad=3)
    ax.tick_params(axis='x', pad=-2)
    for sp in ax.spines.values():
        sp.set_color('#bdbdbd'); sp.set_linewidth(1.6)
    txt(ptext[0], ptext[1], ptext[2], 23*NS, fam=NAR)
    txt(xlabel[0], xlabel[1], xlabel[2], 24*NS, fam=NAR)
    txt(ylabel[0], ylabel[1], ylabel[2], 21.5, rotation=90)

RC = ['#e8141c', '#2a72b5', '#f08080', '#8fb8dc']
KC = ['#d4950f', '#14c4c4', '#e0bb70', '#66e4e0']
violin((1106,1489,1473.6,1850),1815,83.3,25,[0,25,50,75],[12.5,37.5,62.5,87.5],risk_groups,(1206.4,1373.5),H_hi,H_lo,
       (viol_v_hi_H,viol_w_hi_H),(viol_v_lo_H,viol_w_lo_H),RC,(1298,1538,r'$\mathit{p}$ = 0.0031'),(1288,1897,'Radscore'),(1052.5,1670,'Expression of CTNNB1'))
violin((1584,1490,1959,1851),1814.5,83.3,25,[0,25,50,75],[12.5,37.5,62.5,87.5],grade_groups,(1686,1857.7),I_hi,I_lo,
       (viol_v_hi_I,viol_w_hi_I),(viol_v_lo_I,viol_w_lo_I),RC,(1779.5,1538,r'$\mathit{p}$ = 0.036'),(1773,1897,'Grade'),(1530.5,1670,'Expression of CTNNB1'))
violin((1107,1912,1474,2274),2217.7,81.1,50,[0,50,100,150],[-25,25,75,125,175],risk_groups,(1207,1374),J_hi,J_lo,
       (viol_v_hi_J,viol_w_hi_J),(viol_v_lo_J,viol_w_lo_J),KC,(1296.5,1956,r'$\mathit{p}$ < 0.001'),(1288,2321,'Radscore'),(1047.5,2097,'Expression of KDR'))
violin((1585.5,1910,1961,2272),2208,78.4,50,[0,50,100,150],[-25,25,75,125,175],grade_groups,(1687,1858),K_hi,K_lo,
       (viol_v_hi_K,viol_w_hi_K),(viol_v_lo_K,viol_w_lo_K),KC,(1759,1956,r'$\mathit{p}$ = 0.0055'),(1767,2321,'Grade'),(1526,2090,'Expression of KDR'))

fig.savefig('out.png', dpi=100)
